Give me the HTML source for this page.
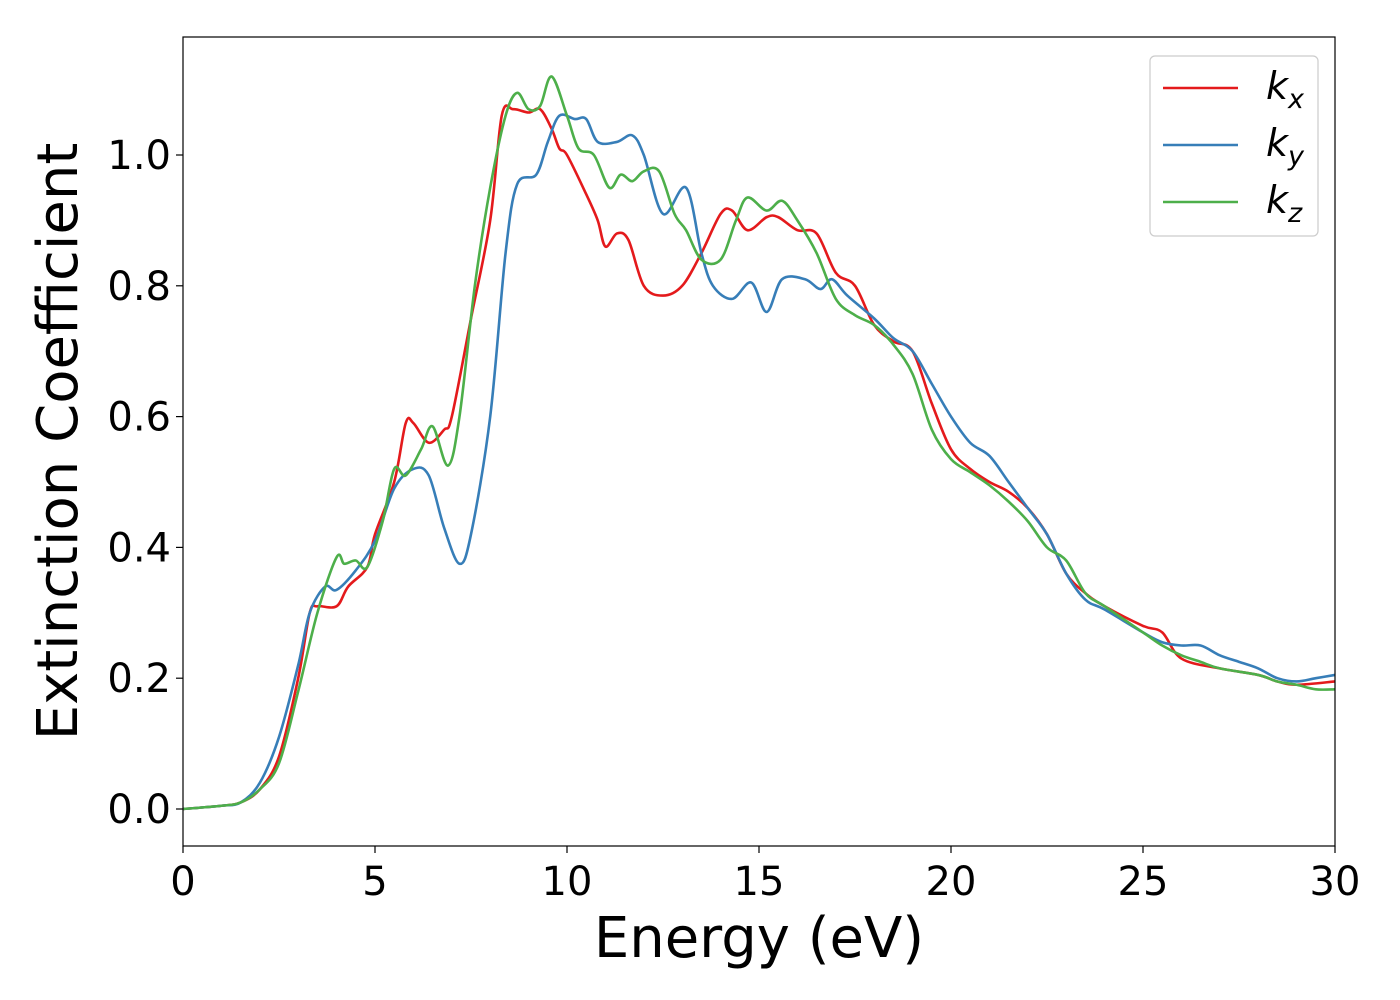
<!DOCTYPE html>
<html><head><meta charset="utf-8"><style>
html,body{margin:0;padding:0;background:#fff;}
svg{display:block;font-family:"DejaVu Sans","Liberation Sans",sans-serif;}
</style></head><body>
<svg id="chart" width="1400" height="1000" viewBox="0 0 1400 1000" xmlns="http://www.w3.org/2000/svg">
<rect x="0" y="0" width="1400" height="1000" fill="#fff"/>
<g id="series"></g>
<g id="axes"></g>
</svg>
<script>
const xTicks=[0,5,10,15,20,25,30];
const yTicks=[0.0,0.2,0.4,0.6,0.8,1.0];
const seriesNames=["kx","ky","kz"];
const kxE=[0,1,1.5,2,2.5,3,3.3,3.5,4,4.3,4.8,5,5.5,5.8,6,6.4,6.8,7,7.5,8,8.3,8.6,9,9.3,9.6,9.8,10,10.5,10.8,11,11.3,11.6,12,12.5,13,13.5,14,14.3,14.7,15.2,15.5,16,16.5,17,17.5,18,18.5,19,19.5,20,20.5,21,21.5,22,22.5,23,23.5,24,25,25.5,26,27,28,28.5,29,30];
const kxV=[0,0.005,0.01,0.03,0.08,0.2,0.3,0.31,0.31,0.34,0.37,0.42,0.5,0.59,0.59,0.56,0.58,0.6,0.75,0.9,1.06,1.07,1.065,1.07,1.04,1.01,1.0,0.94,0.9,0.86,0.88,0.87,0.8,0.785,0.8,0.85,0.91,0.915,0.885,0.905,0.905,0.885,0.88,0.82,0.8,0.74,0.715,0.7,0.62,0.55,0.52,0.5,0.485,0.46,0.42,0.36,0.33,0.31,0.28,0.27,0.23,0.215,0.205,0.195,0.19,0.195];
const kyE=[0,1,1.5,2,2.5,3,3.3,3.7,4,4.5,5,5.5,6,6.4,6.8,7.2,7.5,8,8.4,8.7,9.2,9.5,9.8,10.2,10.5,10.8,11.3,11.7,12,12.5,13.1,13.5,13.8,14.3,14.8,15.2,15.6,16.2,16.6,16.9,17.3,18,18.5,19,19.5,20,20.5,21,21.5,22,22.5,23,23.5,24,25,25.5,26,26.5,27,27.5,28,28.5,29,29.5,30];
const kyV=[0,0.005,0.01,0.04,0.11,0.22,0.3,0.34,0.335,0.365,0.41,0.49,0.52,0.51,0.43,0.375,0.42,0.6,0.85,0.955,0.97,1.02,1.06,1.055,1.055,1.02,1.02,1.03,1.0,0.91,0.95,0.85,0.8,0.78,0.805,0.76,0.81,0.81,0.795,0.81,0.785,0.75,0.72,0.7,0.65,0.6,0.56,0.54,0.5,0.46,0.42,0.36,0.32,0.305,0.27,0.255,0.25,0.25,0.235,0.225,0.215,0.2,0.195,0.2,0.205];
const kzE=[0,1,1.5,2,2.5,3,3.5,4,4.2,4.5,4.8,5.2,5.5,5.8,6.2,6.5,6.9,7.2,7.6,8,8.4,8.7,9,9.3,9.6,10,10.3,10.7,11.1,11.4,11.7,12,12.4,12.8,13.1,13.5,14,14.4,14.7,15.2,15.6,16,16.5,17,17.5,18,18.5,19,19.5,20,20.5,21,21.5,22,22.5,23,23.5,24,25,25.5,26,26.5,27,28,28.5,29,29.5,30];
const kzV=[0,0.005,0.01,0.03,0.07,0.18,0.3,0.385,0.375,0.38,0.37,0.44,0.52,0.51,0.55,0.585,0.525,0.6,0.8,0.95,1.06,1.095,1.07,1.075,1.12,1.06,1.01,1.0,0.95,0.97,0.96,0.975,0.975,0.91,0.885,0.84,0.84,0.9,0.935,0.915,0.93,0.9,0.85,0.78,0.755,0.74,0.71,0.665,0.58,0.535,0.515,0.495,0.47,0.44,0.4,0.38,0.33,0.31,0.27,0.25,0.235,0.225,0.215,0.205,0.195,0.19,0.183,0.183];

const NS="http://www.w3.org/2000/svg";
const L=183,R=1335,T=37,B=846;
const X=v=>L+(v-0)/(30-0)*(R-L);
const Y=v=>809-(v-0)*654;
function mk(tag,attrs,parent){const e=document.createElementNS(NS,tag);for(const k in attrs)e.setAttribute(k,attrs[k]);parent.appendChild(e);return e;}
const sg=document.getElementById('series'),ag=document.getElementById('axes');
function smoothPath(xs,ys){
  const p=xs.map((x,i)=>[X(x),Y(ys[i])]);
  let d=`M${p[0][0]},${p[0][1]}`;
  for(let i=0;i<p.length-1;i++){
    const p0=p[Math.max(0,i-1)],p1=p[i],p2=p[i+1],p3=p[Math.min(p.length-1,i+2)];
    const c1=[p1[0]+(p2[0]-p0[0])/6,p1[1]+(p2[1]-p0[1])/6];
    const c2=[p2[0]-(p3[0]-p1[0])/6,p2[1]-(p3[1]-p1[1])/6];
    d+=` C${c1[0]},${c1[1]} ${c2[0]},${c2[1]} ${p2[0]},${p2[1]}`;
  }
  return d;
}
const cols=["#e41a1c","#377eb8","#4daf4a"];
const data=[[kxE,kxV],[kyE,kyV],[kzE,kzV]];
data.forEach((s,i)=>{
  const p=mk('path',{d:smoothPath(s[0],s[1]),fill:'none',stroke:cols[i],'stroke-width':2.6,'stroke-linejoin':'round'},sg);
  
  
});
const frame=mk('rect',{x:L,y:T,width:R-L,height:B-T,fill:'none',stroke:'#000','stroke-width':1.2},ag);


xTicks.forEach(t=>{
  mk('line',{x1:X(t),x2:X(t),y1:B,y2:B+7,stroke:'#000','stroke-width':1.2},ag);
  const tx=mk('text',{x:X(t),y:B+49,'text-anchor':'middle','font-size':40},ag);
  tx.textContent=t;
  
  
});
yTicks.forEach(t=>{
  mk('line',{x1:L-7,x2:L,y1:Y(t),y2:Y(t),stroke:'#000','stroke-width':1.2},ag);
  const tx=mk('text',{x:L-12,y:Y(t)+14,'text-anchor':'end','font-size':40},ag);
  tx.textContent=t.toFixed(1);
  
  
});
const xt=mk('text',{x:(L+R)/2,y:957,'text-anchor':'middle','font-size':56},ag);
xt.textContent='Energy (eV)';


const yt=mk('text',{x:0,y:0,'text-anchor':'middle','font-size':56,transform:`translate(77,${(T+B)/2}) rotate(-90)`},ag);
yt.textContent='Extinction Coefficient';


const lg=mk('g',{},ag);


mk('rect',{x:1150,y:56,width:168,height:180,rx:5,fill:'#fff',stroke:'#ccc','stroke-width':1.2},lg);
const subs=['x','y','z'];
subs.forEach((s,i)=>{
  const yy=88+i*57;
  mk('line',{x1:1163,x2:1238,y1:yy,y2:yy,stroke:cols[i],'stroke-width':2.6},lg);
  const t=mk('text',{x:1266,y:yy+11,'font-size':38,'font-style':'italic'},lg);
  t.textContent='k';
  const ts=mk('tspan',{'font-size':27,dy:9},t);
  ts.textContent=s;
  
  
});
</script>
</body></html>
